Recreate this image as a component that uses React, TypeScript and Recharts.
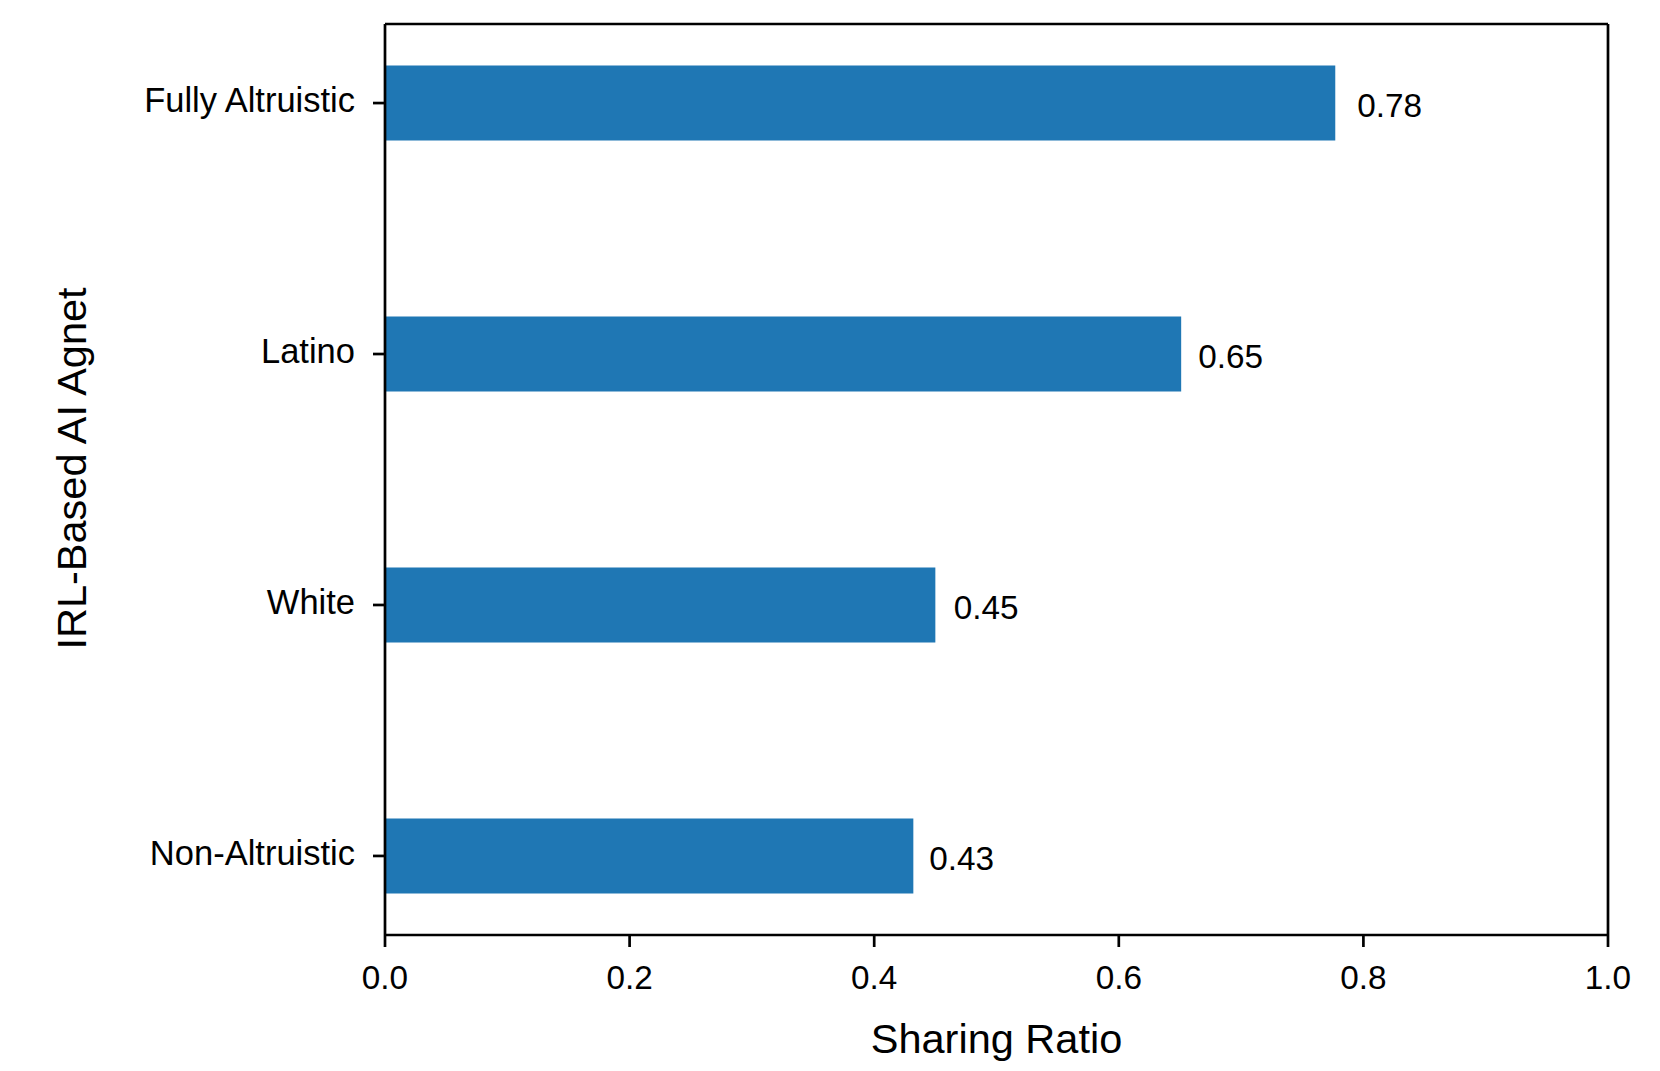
import React from 'react';
import { BarChart, Bar, XAxis, YAxis, LabelList, ReferenceLine } from 'recharts';

// Category order bottom-to-top (matplotlib barh order)
const categories: string[] = ['Non-Altruistic', 'White', 'Latino', 'Fully Altruistic'];
const positions: number[] = [0, 1, 2, 3];
const values: number[] = [0.432, 0.45, 0.651, 0.777];
const valueLabels: string[] = ['0.43', '0.45', '0.65', '0.78'];
const xTicks: number[] = [0, 0.2, 0.4, 0.6, 0.8, 1.0];

const data = categories.map((c, i) => ({
  name: c,
  pos: positions[i],
  value: values[i],
  label: valueLabels[i],
}));

const FONT = '"Liberation Sans", Arial, Helvetica, sans-serif';
const TICK_FS = 33.3;
const CAT_FS = 34.5;
const LABEL_FS = 41.5;
const Y_MIN = -0.315;
const Y_MAX = 3.315;

const YTick = (props: any) => {
  const { x, y, payload } = props;
  const idx = positions.indexOf(payload.value);
  return (
    <text x={x} y={y} dy={9} textAnchor="end" fontFamily={FONT} fontSize={CAT_FS} fill="#000">
      {idx >= 0 ? categories[idx] : ''}
    </text>
  );
};

const XTick = (props: any) => {
  const { x, y, payload } = props;
  return (
    <text x={x} y={y} dy={42} textAnchor="middle" fontFamily={FONT} fontSize={TICK_FS} fill="#000">
      {Number(payload.value).toFixed(1)}
    </text>
  );
};

const ValueLabel = (props: any) => {
  const { x, y, width, height, index } = props;
  const v = values[index];
  const lab = valueLabels[index];
  const ppu = width / v;
  const tx = x + (parseFloat(lab) + 0.015) * ppu;
  const cy = y + height / 2;
  return (
    <text x={tx} y={cy} dy={14} textAnchor="start" fontFamily={FONT} fontSize={TICK_FS} fill="#000">
      {lab}
    </text>
  );
};

const XLabel = (props: any) => {
  const { viewBox } = props;
  const cx = viewBox.x + viewBox.width / 2;
  return (
    <text x={cx} y={viewBox.y + 118} textAnchor="middle" fontFamily={FONT} fontSize={LABEL_FS} fill="#000">
      Sharing Ratio
    </text>
  );
};

const YLabel = (props: any) => {
  const { viewBox } = props;
  const cy = viewBox.y + viewBox.height / 2 - 11;
  const bx = 86;
  return (
    <text
      x={bx}
      y={cy}
      transform={`rotate(-90, ${bx}, ${cy})`}
      textAnchor="middle"
      fontFamily={FONT}
      fontSize={LABEL_FS}
      fill="#000"
    >
      IRL-Based AI Agnet
    </text>
  );
};

export default function App() {
  return (
    <div style={{ position: 'absolute', left: 0, top: 0, width: 1660, height: 1071, background: '#fff' }}>
      <BarChart
        width={1660}
        height={1071}
        data={data}
        layout="vertical"
        margin={{ top: 24, right: 52, bottom: 0, left: 0 }}
      >
        <XAxis
          type="number"
          dataKey="value"
          domain={[0, 1]}
          ticks={xTicks}
          allowDataOverflow
          height={136}
          tickSize={12}
          tickMargin={0}
          tick={<XTick />}
          axisLine={{ stroke: '#000', strokeWidth: 2.7 }}
          tickLine={{ stroke: '#000', strokeWidth: 2.7 }}
          label={<XLabel />}
        />
        <YAxis
          type="number"
          dataKey="pos"
          domain={[Y_MIN, Y_MAX]}
          ticks={positions}
          reversed
          allowDataOverflow
          width={385}
          tickSize={12}
          tickMargin={18}
          tick={<YTick />}
          axisLine={{ stroke: '#000', strokeWidth: 2.7 }}
          tickLine={{ stroke: '#000', strokeWidth: 2.7 }}
          label={<YLabel />}
        />
        <ReferenceLine y={Y_MAX} stroke="#000" strokeWidth={2.7} />
        <ReferenceLine x={1} stroke="#000" strokeWidth={2.7} />
        <Bar dataKey="value" fill="#1f77b4" barSize={75} isAnimationActive={false}>
          <LabelList dataKey="value" content={<ValueLabel />} />
        </Bar>
      </BarChart>
    </div>
  );
}
